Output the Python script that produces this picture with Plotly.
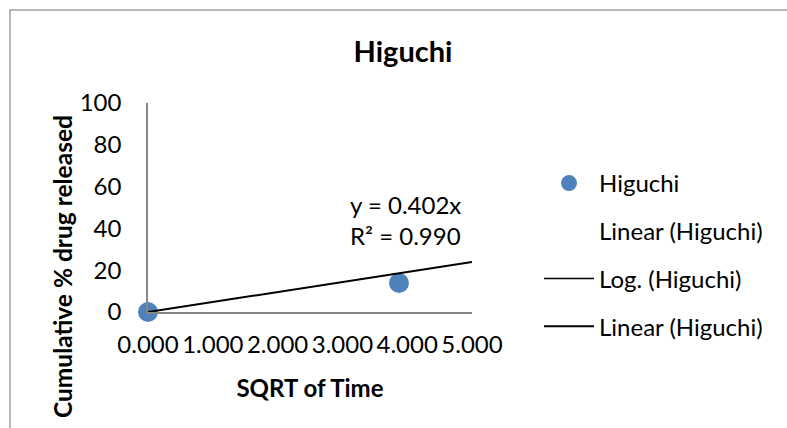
import plotly.graph_objects as go

# Data
sqrt_time = [0.0, 3.873]
cum_release = [0.0, 13.9]
trend_x = [0.0, 5.0]
trend_y = [0.0, 23.9]
x_ticks = [0, 1, 2, 3, 4, 5]
x_ticklabels = ["0.000", "1.000", "2.000", "3.000", "4.000", "5.000"]
y_ticks = [0, 20, 40, 60, 80, 100]
equation_text = "y = 0.402x<br>R² = 0.990"

FONT = "Lato, 'Open Sans', sans-serif"
W, H = 787, 428
L, R, T, B = 148, 315, 103, 116
pw, ph = W - L - R, H - T - B

def px(xp):
    return (xp - L) / pw

def py(yp):
    return (H - B - yp) / ph

fig = go.Figure()
fig.add_trace(go.Scatter(
    x=sqrt_time, y=cum_release, mode="markers", name="Higuchi",
    marker=dict(color="#4F81BD", size=20), cliponaxis=False, legendgroup="a"))
fig.add_trace(go.Scatter(
    x=[None], y=[None], mode="lines", name="Linear (Higuchi)",
    line=dict(color="rgba(0,0,0,0)", width=1.5), legendgroup="b"))
fig.add_trace(go.Scatter(
    x=[None], y=[None], mode="lines", name="Log. (Higuchi)",
    line=dict(color="black", width=1.5), legendgroup="c"))
fig.add_trace(go.Scatter(
    x=trend_x, y=trend_y, mode="lines", name="Linear (Higuchi)",
    line=dict(color="black", width=2), legendgroup="d", cliponaxis=False))

fig.update_layout(
    width=W, height=H,
    margin=dict(l=L, r=R, t=T, b=B),
    paper_bgcolor="white", plot_bgcolor="white",
    font=dict(family=FONT, size=24, color="black"),
    title=dict(text="<b>Higuchi</b>", x=403 / W, xanchor="center",
               y=1 - 52 / H, yanchor="middle", font=dict(size=29)),
    xaxis=dict(range=[0, 5], tickvals=x_ticks, ticktext=x_ticklabels,
               showgrid=False, zeroline=False, showline=True,
               linecolor="#868686", linewidth=1.5, ticks="",
               ticklabelstandoff=10, tickfont=dict(size=24),
               title=dict(text="<b>SQRT of Time</b>", font=dict(size=24), standoff=24)),
    yaxis=dict(range=[0, 100], tickvals=y_ticks,
               showgrid=False, zeroline=False, showline=True,
               linecolor="#868686", linewidth=1.5, ticks="",
               ticklabelstandoff=20, tickfont=dict(size=24)),
    legend=dict(x=px(539), xanchor="left", y=py(161), yanchor="top",
                tracegroupgap=13.5, itemwidth=50, font=dict(size=24),
                bgcolor="rgba(0,0,0,0)"),
    showlegend=True,
)

fig.add_annotation(text="<b>Cumulative % drug released</b>", textangle=-90,
                   x=px(62), y=py(267), xref="paper", yref="paper",
                   showarrow=False, font=dict(size=24.5),
                   xanchor="center", yanchor="middle")

fig.add_annotation(text=equation_text, x=3.98, y=43.8, xref="x", yref="y",
                   showarrow=False, font=dict(size=24), align="left",
                   xanchor="center", yanchor="middle")

fig.add_shape(type="rect", xref="paper", yref="paper",
              x0=px(10), x1=px(W + 20), y0=py(H + 20), y1=py(10),
              line=dict(color="#A0A0A0", width=1.5), fillcolor="rgba(0,0,0,0)",
              layer="below")

fig.write_html("out.html", config={"displayModeBar": False},
               post_script="document.body.style.margin='0';")
